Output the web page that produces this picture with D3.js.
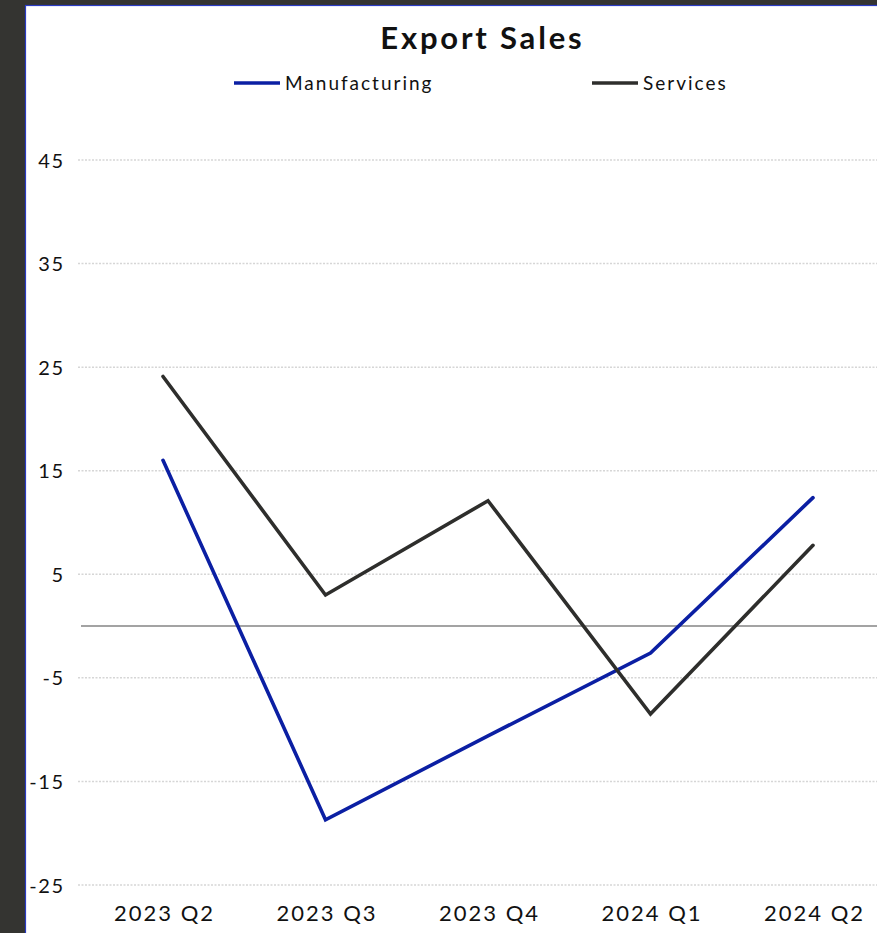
<!DOCTYPE html>
<html>
<head>
<meta charset="utf-8">
<script src="https://cdn.jsdelivr.net/npm/d3@7"></script>
<style>
  html, body { margin: 0; padding: 0; background: #343431; }
  svg { display: block; }
</style>
</head>
<body>
<script>
// Quarterly export sales balance by sector
const quarters = ["2023 Q2", "2023 Q3", "2023 Q4", "2024 Q1", "2024 Q2"];
const manufacturing = [16.0, -18.7, -10.6, -2.6, 12.4];
const services = [24.1, 3.0, 12.1, -8.5, 7.8];
const yTicks = [45, 35, 25, 15, 5, -5, -15, -25];
const seriesNames = ["Manufacturing", "Services"];
const seriesColors = ["#0b1fa3", "#2e2e2c"];

const W = 877, H = 933;
const FONT = "Lato, 'Open Sans', sans-serif";

const svg = d3.select("body").append("svg")
  .attr("width", W).attr("height", H);

// Dark frame and white panel
svg.append("rect").attr("width", W).attr("height", H).attr("fill", "#343431");
svg.append("rect")
  .attr("x", 25.5).attr("y", 5.5).attr("width", W).attr("height", H)
  .attr("fill", "#ffffff").attr("stroke", "#2a3bc4").attr("stroke-width", 1.2);

const x = d3.scalePoint().domain(quarters).range([163, 813]);
const y = d3.scaleLinear().domain([-25, 45]).range([885, 160]);

// Title
const titleSpacing = 2.8;
svg.append("text")
  .attr("x", 481 + titleSpacing / 2).attr("y", 49)
  .attr("text-anchor", "middle")
  .attr("font-family", FONT).attr("font-weight", 700)
  .attr("font-size", 31).attr("fill", "#111")
  .attr("letter-spacing", titleSpacing)
  .text("Export Sales");

// Legend
const legendX = [234, 592];
seriesNames.forEach((name, i) => {
  const g = svg.append("g").attr("transform", `translate(${legendX[i]},83)`);
  g.append("line").attr("x1", 0).attr("x2", 46).attr("y1", 0).attr("y2", 0)
    .attr("stroke", seriesColors[i]).attr("stroke-width", 3.5);
  g.append("text").attr("x", 51).attr("y", 6.5)
    .attr("font-family", FONT).attr("font-size", 19).attr("fill", "#111")
    .attr("letter-spacing", 2.0)
    .text(name);
});

// Horizontal gridlines (dotted)
svg.append("g").selectAll("line").data(yTicks).join("line")
  .attr("x1", 78).attr("x2", W)
  .attr("y1", d => y(d)).attr("y2", d => y(d))
  .attr("stroke", "#d6d6d6").attr("stroke-width", 1.5)
  .attr("stroke-dasharray", "2,1.5");

// Y axis labels
const ySpacing = 1.5;
const yAxis = d3.axisLeft(y).tickValues(yTicks).tickSize(0).tickPadding(0)
  .tickFormat(d => String(d));
svg.append("g").attr("transform", `translate(${63 + ySpacing},0)`).call(yAxis)
  .call(g => g.select(".domain").remove())
  .selectAll("text")
  .attr("font-family", FONT).attr("font-size", 20).attr("fill", "#111")
  .attr("letter-spacing", ySpacing)
  .attr("dy", "0.35em");

// Zero baseline
svg.append("line")
  .attr("x1", 81).attr("x2", W)
  .attr("y1", y(0)).attr("y2", y(0))
  .attr("stroke", "#858585").attr("stroke-width", 1.6);

// X axis labels
const xSpacing = 2.0;
const xAxis = d3.axisBottom(x).tickSize(0).tickPadding(0);
svg.append("g").attr("transform", `translate(${xSpacing / 2},905)`).call(xAxis)
  .call(g => g.select(".domain").remove())
  .selectAll("text")
  .attr("font-family", FONT).attr("font-size", 22).attr("fill", "#111")
  .attr("dy", "0.71em").attr("letter-spacing", xSpacing);

// Series lines
const line = d3.line().x((d, i) => x(quarters[i])).y(d => y(d));
[manufacturing, services].forEach((vals, i) => {
  svg.append("path").datum(vals)
    .attr("d", line)
    .attr("fill", "none")
    .attr("stroke", seriesColors[i])
    .attr("stroke-width", 3.6)
    .attr("stroke-linejoin", "miter")
    .attr("stroke-linecap", "round");
});
</script>
</body>
</html>
